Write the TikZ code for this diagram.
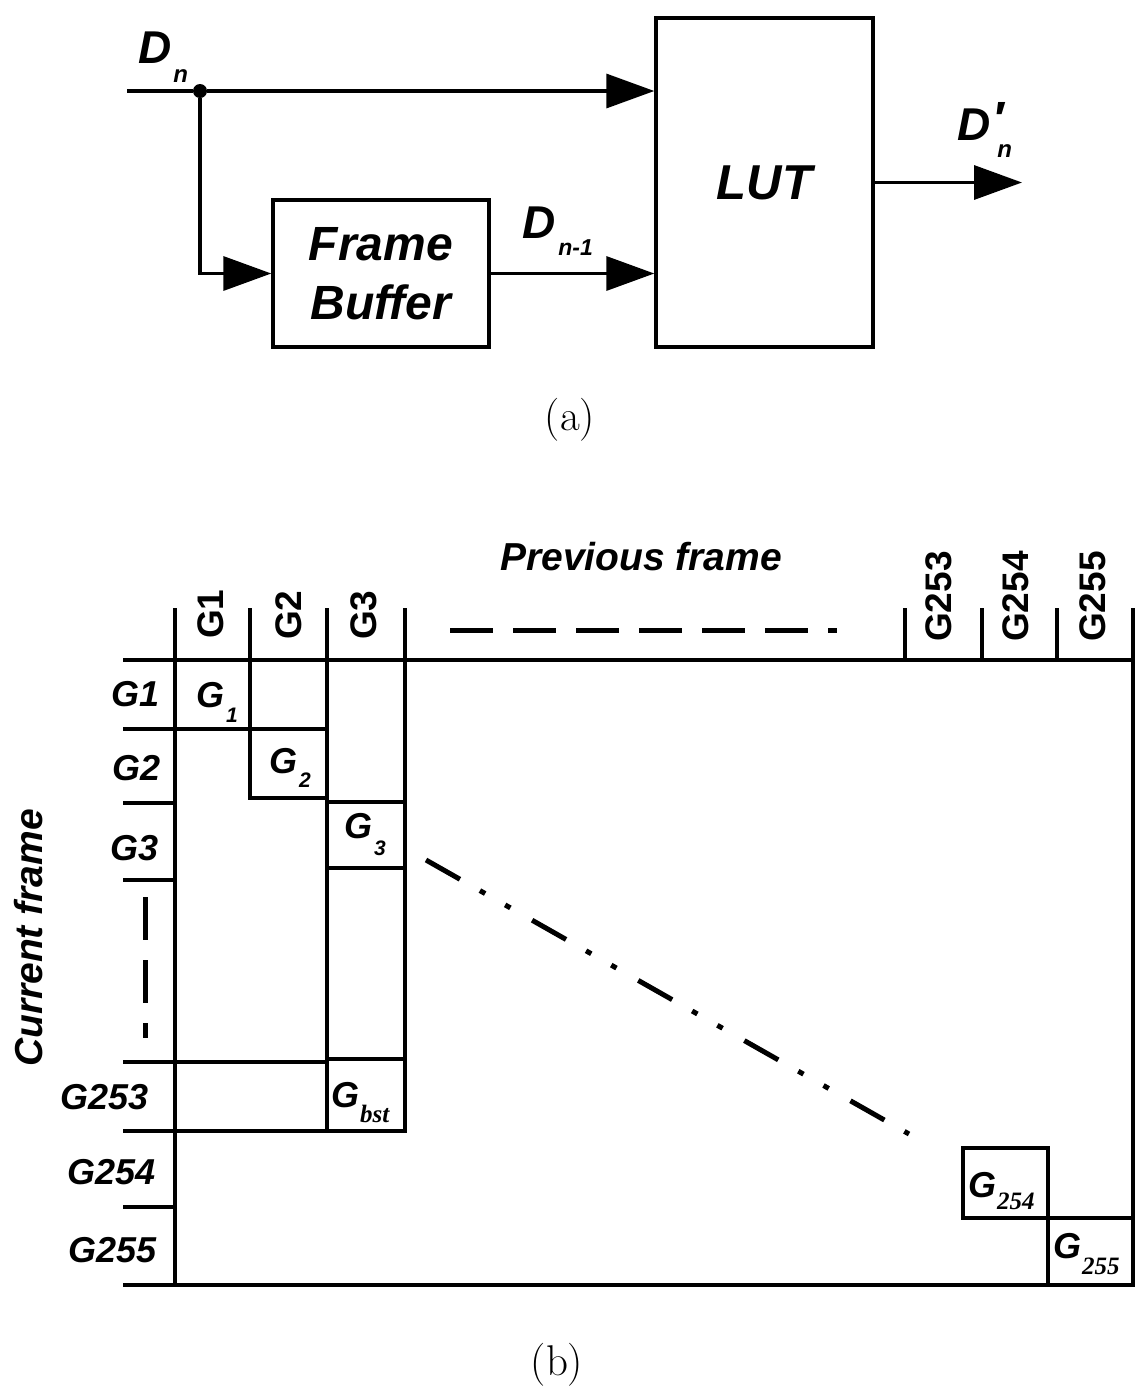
\documentclass[tikz,border=0pt]{standalone}
\usepackage{fontspec}
\newfontfamily\arialf{Liberation Sans}
\newfontfamily\serff{Liberation Serif}
\usetikzlibrary{arrows.meta}
\newcommand\myfs[1]{\fontsize{#1}{#1}\selectfont}
\begin{document}
\begin{tikzpicture}[x=1pt,y=-1pt,
  ln/.style={line width=3.4pt},
  gl/.style={line width=3.2pt, line cap=rect},
  arr/.style={ln,-{Triangle[length=48pt,width=34pt]}},
  bi/.style={font=\arialf\bfseries\itshape\myfs{#1}, inner sep=0pt},
  bu/.style={font=\arialf\bfseries\myfs{#1}, inner sep=0pt},
  blk/.style={draw, ln, rectangle, inner sep=0pt},
  collab/.style={bu=37, rotate=90, anchor=west},
  rowlab/.style={bi=36, anchor=east},
  boxlab/.style={bi=36, anchor=base west}
]
\useasboundingbox (0,0) rectangle (1138,1393);

% ---------------- (a) ----------------
\node[blk, minimum width=217pt, minimum height=329pt,
      font=\arialf\bfseries\itshape\myfs{49}] (lut) at (764.5,182.5) {LUT};
\node[blk, minimum width=216pt, minimum height=147pt, align=center,
      font=\arialf\bfseries\itshape\fontsize{48}{59}\selectfont] (fb) at (381,273.5) {Frame\\Buffer};
\node[circle, fill, inner sep=0pt, minimum size=14pt] (dot) at (200,91) {};
\coordinate (in) at (127,91);
\coordinate (out) at (1022,182.5);

\draw[ln] (in) -- (dot);
\draw[arr] (dot) -- (dot -| lut.west);
\draw[arr] (dot) |- (fb.west);
\draw[arr] (fb.east) -- (fb.east -| lut.west);
\draw[arr] (lut.east) -- (out);

\node[bi=46, anchor=base west] (dn) at (138,63) {D\kern2pt\raisebox{-19pt}{\myfs{24}n}};
\node[bi=46, anchor=base west] (dm) at (522,238) {D\kern3pt\raisebox{-17pt}{\myfs{23}n-1}};
\node[bi=46, anchor=base west] (dp) at (957,140)
  {D\rlap{\kern2pt\raisebox{5pt}{\myfs{48}′}}\kern7pt\raisebox{-17pt}{\myfs{24}n}};

\node[font=\myfs{43}, inner sep=0pt] (capa) at (570,420) {(a)};

% ---------------- (b) ----------------
\draw[gl] (125,660) -- (1133,660);
\draw[gl] (175,610) -- (175,1285);
\draw[gl] (1133,610) -- (1133,1285);
\draw[gl] (125,1285) -- (1133,1285);
\foreach \xx in {250,327,405,905,982,1057} \draw[gl] (\xx,610) -- (\xx,660);
\foreach \yy in {803,880,1207} \draw[gl] (125,\yy) -- (175,\yy);
\draw[gl] (125,729) -- (327,729);
\draw[gl] (250,660) -- (250,798) -- (327,798);
\draw[gl] (327,660) -- (327,1131);
\draw[gl] (405,660) -- (405,1131);
\draw[gl] (327,802) -- (405,802);
\draw[gl] (327,868) -- (405,868);
\draw[gl] (125,1062) -- (327,1062);
\draw[gl] (327,1059) -- (405,1059);
\draw[gl] (125,1131) -- (405,1131);
\draw[gl] (963,1148) rectangle (1048,1218);
\draw[gl] (1048,1218) -- (1133,1218);
\draw[gl] (1048,1218) -- (1048,1285);

\draw[line width=5pt, dash pattern=on 43pt off 20pt] (450,630) -- (837,630);
\draw[line width=5pt, dash pattern=on 43pt off 20pt] (145,897) -- (145,1038);
\draw[line width=5pt, dash pattern=on 39pt off 23pt on 6pt off 23pt on 6pt off 25pt] (426,860) -- (909,1134);

\node[bi=39, anchor=base west] (prev) at (500,570) {Previous frame};
\node[bi=39, rotate=90] (curr) at (29,938) {Current frame};

\node[collab] (c1) at (211,639) {G1};
\node[collab] (c2) at (289,640) {G2};
\node[collab] (c3) at (364,640) {G3};
\node[collab] (c253) at (939,642) {G253};
\node[collab] (c254) at (1016,642) {G254};
\node[collab] (c255) at (1093,642) {G255};

\node[rowlab] (r1) at (160,694) {G1};
\node[rowlab] (r2) at (161,768) {G2};
\node[rowlab] (r3) at (159,848) {G3};
\node[rowlab] (r253) at (149,1097) {G253};
\node[rowlab] (r254) at (156,1172) {G254};
\node[rowlab] (r255) at (157,1250) {G255};

\node[boxlab] (g1) at (196,707) {G\kern2pt\raisebox{-15pt}{\myfs{21}1}};
\node[boxlab] (g2) at (269,773) {G\kern2pt\raisebox{-14pt}{\myfs{21}2}};
\node[boxlab] (g3) at (344,838) {G\kern2pt\raisebox{-17pt}{\myfs{21}3}};
\node[boxlab] (gbst) at (331,1107) {G\kern1pt\raisebox{-15pt}{\serff\bfseries\itshape\myfs{25}bst}};
\node[boxlab] (g254) at (968,1197) {G\kern1pt\raisebox{-12pt}{\serff\bfseries\itshape\myfs{25}254}};
\node[boxlab] (g255) at (1053,1258) {G\kern1pt\raisebox{-16pt}{\serff\bfseries\itshape\myfs{25}255}};

\node[font=\myfs{43}, inner sep=0pt] (capb) at (557,1365) {(b)};
\end{tikzpicture}
\end{document}
